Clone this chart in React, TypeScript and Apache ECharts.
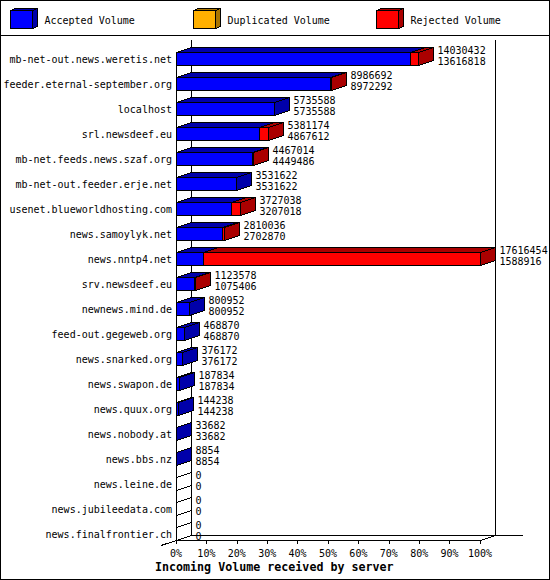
import React, { useEffect, useRef } from "react";
import * as echarts from "echarts";

const categories = [
  "mb-net-out.news.weretis.net",
  "feeder.eternal-september.org",
  "localhost",
  "srl.newsdeef.eu",
  "mb-net.feeds.news.szaf.org",
  "mb-net-out.feeder.erje.net",
  "usenet.blueworldhosting.com",
  "news.samoylyk.net",
  "news.nntp4.net",
  "srv.newsdeef.eu",
  "newnews.mind.de",
  "feed-out.gegeweb.org",
  "news.snarked.org",
  "news.swapon.de",
  "news.quux.org",
  "news.nobody.at",
  "news.bbs.nz",
  "news.leine.de",
  "news.jubileedata.com",
  "news.finalfrontier.ch",
];
const received = [14030432, 8986692, 5735588, 5381174, 4467014, 3531622, 3727038, 2810036, 17616454, 1123578, 800952, 468870, 376172, 187834, 144238, 33682, 8854, 0, 0, 0];
const accepted = [13616818, 8972292, 5735588, 4867612, 4449486, 3531622, 3207018, 2702870, 1588916, 1075406, 800952, 468870, 376172, 187834, 144238, 33682, 8854, 0, 0, 0];
const percentTicks = [0, 10, 20, 30, 40, 50, 60, 70, 80, 90, 100];
const legendNames = ["Accepted Volume", "Duplicated Volume", "Rejected Volume"];
const xTitle = "Incoming Volume received by server";

const BLUE = "#0000ff", BLUE_D = "#0000aa";
const RED = "#ff0000", RED_D = "#aa0000";
const ORANGE = "#ffb000", ORANGE_D = "#aa7500";
const MONO = '"DejaVu Sans Mono", monospace';
const DX = 15, DY = 5;

const maxVal = Math.max(...received);
const pct = (v: number) => (v / maxVal) * 100;

const px = (v: number) => Math.round(v - 0.5) + 0.5;

function face(points: number[][], fill: string) {
  return { type: "polygon", shape: { points }, style: { fill, stroke: "#000", lineWidth: 1 } };
}

function box(x0: number, x1: number, top: number, bot: number, fill: string, dark: string) {
  return [
    face([[x0, top], [x0 + DX, top - DY], [x1 + DX, top - DY], [x1, top]], dark),
    face([[x1, top], [x1 + DX, top - DY], [x1 + DX, bot - DY], [x1, bot]], dark),
    face([[x0, top], [x1, top], [x1, bot], [x0, bot]], fill),
  ];
}

function renderBar(_p: any, api: any) {
  const i = api.value(0);
  const tot = api.value(1);
  const acc = api.value(2);
  const [x0raw, cy] = api.coord([0, i]);
  const bot = px(cy + 5.5);
  const top = px(cy - 7);
  const x0 = px(x0raw);
  const xa = px(api.coord([acc, i])[0]);
  const xt = px(api.coord([tot, i])[0]);
  const children: any[] = [];
  if (received[i] === 0) {
    children.push(
      { type: "line", shape: { x1: x0, y1: top, x2: x0 + DX, y2: top - DY }, style: { stroke: "#000", lineWidth: 1 } },
      { type: "line", shape: { x1: x0, y1: bot, x2: x0 + DX, y2: bot - DY }, style: { stroke: "#000", lineWidth: 1 } },
    );
  } else {
    children.push(...box(x0, xa, top, bot, BLUE, BLUE_D));
    if (xt > xa) children.push(...box(xa, xt, top, bot, RED, RED_D));
  }
  const tx = xt + DX + 4;
  const label = (text: string, y: number) => ({
    type: "text",
    style: { text, x: tx, y, font: `10px ${MONO}`, fill: "#000", align: "left", verticalAlign: "middle" },
  });
  children.push(label(String(received[i]), bot - 15), label(String(accepted[i]), bot - 4));
  return { type: "group", children };
}

function legendItem(x: number, fill: string, dark: string, name: string, tx: number) {
  return [
    { type: "polygon", shape: { points: [[x + 0.5, 10.5], [x + 5.5, 8.5], [x + 27.5, 8.5], [x + 22.5, 10.5]] }, style: { fill: dark, stroke: "#000", lineWidth: 1 } },
    { type: "polygon", shape: { points: [[x + 22.5, 10.5], [x + 27.5, 8.5], [x + 27.5, 26.5], [x + 22.5, 28.5]] }, style: { fill: dark, stroke: "#000", lineWidth: 1 } },
    { type: "rect", shape: { x: x + 0.5, y: 10.5, width: 22, height: 18 }, style: { fill, stroke: "#000", lineWidth: 1 } },
    { type: "text", style: { text: name, x: tx, y: 20, font: `10px ${MONO}`, fill: "#000", align: "left", verticalAlign: "middle" } },
  ];
}

const wall = (x1: number, y1: number, x2: number, y2: number) => ({
  type: "line",
  shape: { x1, y1, x2, y2 },
  style: { stroke: "#000", lineWidth: 1 },
  silent: true,
});

export default function App() {
  const ref = useRef<HTMLDivElement>(null);
  useEffect(() => {
    document.body.style.margin = "0";
    document.body.style.background = "#fff";
    const chart = echarts.init(ref.current!, undefined, { renderer: "svg" });
    chart.setOption({
      animation: false,
      backgroundColor: "#fff",
      textStyle: { fontFamily: MONO },
      title: {
        text: xTitle,
        left: 155,
        top: 560,
        padding: 0,
        textStyle: { fontFamily: MONO, fontSize: 11.67, fontWeight: "bold", color: "#000", lineHeight: 13 },
      },
      grid: { left: 176, top: 47, width: 304, height: 500, containLabel: false },
      xAxis: {
        type: "value",
        min: 0,
        max: 100,
        interval: 10,
        offset: -7,
        splitLine: { show: false },
        axisLine: { show: true, lineStyle: { color: "#000", width: 1 } },
        axisTick: { show: true, length: 4, lineStyle: { color: "#000", width: 1 } },
        axisLabel: {
          color: "#000",
          fontFamily: MONO,
          fontSize: 10,
          margin: 8,
          showMinLabel: true,
          showMaxLabel: true,
          formatter: (v: number) => (percentTicks.includes(v) ? `${v}%` : ""),
        },
      },
      yAxis: {
        type: "category",
        inverse: true,
        data: categories,
        axisLine: { show: false },
        axisTick: { show: false },
        splitLine: { show: false },
        axisLabel: {
          interval: 0,
          color: "#000",
          fontFamily: MONO,
          fontSize: 10,
          margin: 4,
        },
      },
      graphic: [
        { type: "rect", silent: true, z: 1, shape: { x: 0.5, y: 0.5, width: 549, height: 579 }, style: { fill: "none", stroke: "#000", lineWidth: 1 } },
        wall(0, 35.5, 550, 35.5),
        wall(176.5, 53, 176.5, 540),
        wall(191.5, 40, 191.5, 535.5),
        wall(495.5, 40, 495.5, 535.5),
        wall(191.5, 535.5, 523, 535.5),
        wall(161, 545.5, 191.5, 535.5),
        wall(480.5, 540.5, 495.5, 535.5),
        ...legendItem(10, BLUE, BLUE_D, legendNames[0], 44.5),
        ...legendItem(193, ORANGE, ORANGE_D, legendNames[1], 227.5),
        ...legendItem(376, RED, RED_D, legendNames[2], 410.5),
      ],
      series: [
        {
          type: "custom",
          clip: false,
          coordinateSystem: "cartesian2d",
          renderItem: renderBar,
          encode: { x: 1, y: 0 },
          data: categories.map((_c, i) => [i, pct(received[i]), pct(accepted[i])]),
        },
      ],
    });
    return () => chart.dispose();
  }, []);
  return <div ref={ref} style={{ width: 550, height: 580, shapeRendering: "crispEdges" } as any} />;
}
